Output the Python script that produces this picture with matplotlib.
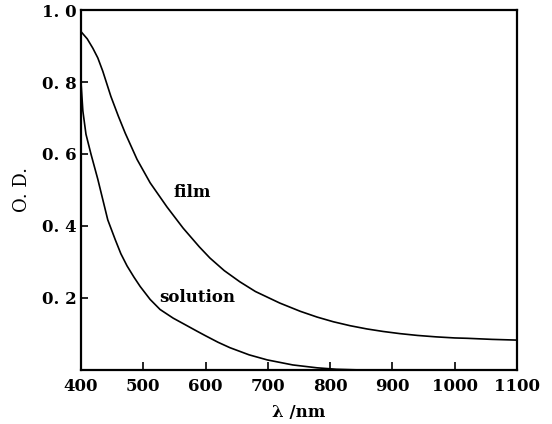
import matplotlib as mpl
mpl.use('Agg')
import matplotlib.pyplot as plt

# wavelength (nm) and optical density
film_wl = [400, 410, 419, 427, 435, 448, 460, 471, 490, 511, 538, 564, 590, 607, 630, 655, 680, 719, 752, 779, 805, 832, 859, 885, 912, 940, 970, 1000, 1020, 1060, 1100]
film_od = [0.94, 0.92, 0.894, 0.867, 0.83, 0.76, 0.705, 0.658, 0.585, 0.52, 0.453, 0.394, 0.342, 0.311, 0.276, 0.245, 0.218, 0.186, 0.163, 0.147, 0.134, 0.123, 0.114, 0.107, 0.101, 0.096, 0.092, 0.089, 0.088, 0.085, 0.083]

sol_wl = [400, 403, 408, 416, 427, 443, 455, 464, 474, 485, 495, 511, 527, 548, 566, 586, 600, 620, 639, 670, 699, 740, 779, 810, 850, 900, 1000, 1100]
sol_od = [0.80, 0.72, 0.655, 0.60, 0.53, 0.417, 0.362, 0.323, 0.289, 0.258, 0.232, 0.196, 0.168, 0.144, 0.127, 0.108, 0.095, 0.077, 0.062, 0.042, 0.028, 0.014, 0.006, 0.002, 0.0, 0.0, 0.0, 0.0]

xticks = [400, 500, 600, 700, 800, 900, 1000, 1100]
yticks = [0.2, 0.4, 0.6, 0.8, 1.0]

plt.rcParams['font.family'] = ['DejaVu Serif']

fig = plt.figure(figsize=(5.52, 4.24), dpi=100)
ax = fig.add_axes([0.1467, 0.1274, 0.79, 0.849])

ax.plot(film_wl, film_od, color='black', linewidth=1.2)
ax.plot(sol_wl, sol_od, color='black', linewidth=1.2)

ax.set_xlim(400, 1100)
ax.set_ylim(0, 1.0)
ax.set_xticks(xticks)
ax.set_xticklabels([str(t) for t in xticks], fontsize=12, fontweight='bold')
ax.set_yticks(yticks)
ax.set_yticklabels([f"{t:.1f}".replace('.', '. ') for t in yticks], fontsize=12, fontweight='bold')
ax.tick_params(axis='x', direction='in', length=5.5, width=1.2, pad=6)
ax.tick_params(axis='y', direction='in', length=5, width=1.2, pad=3)

for s in ax.spines.values():
    s.set_linewidth(1.6)

ax.text(548, 0.493, 'film', fontsize=12, fontweight='bold', ha='left', va='center')
ax.text(525, 0.20, 'solution', fontsize=12, fontweight='bold', ha='left', va='center')

ax.set_xlabel('λ /nm', fontsize=12, fontweight='bold', labelpad=6)
ax.set_ylabel('O. D.', fontsize=13, labelpad=8)

fig.savefig('out.png', dpi=100)
